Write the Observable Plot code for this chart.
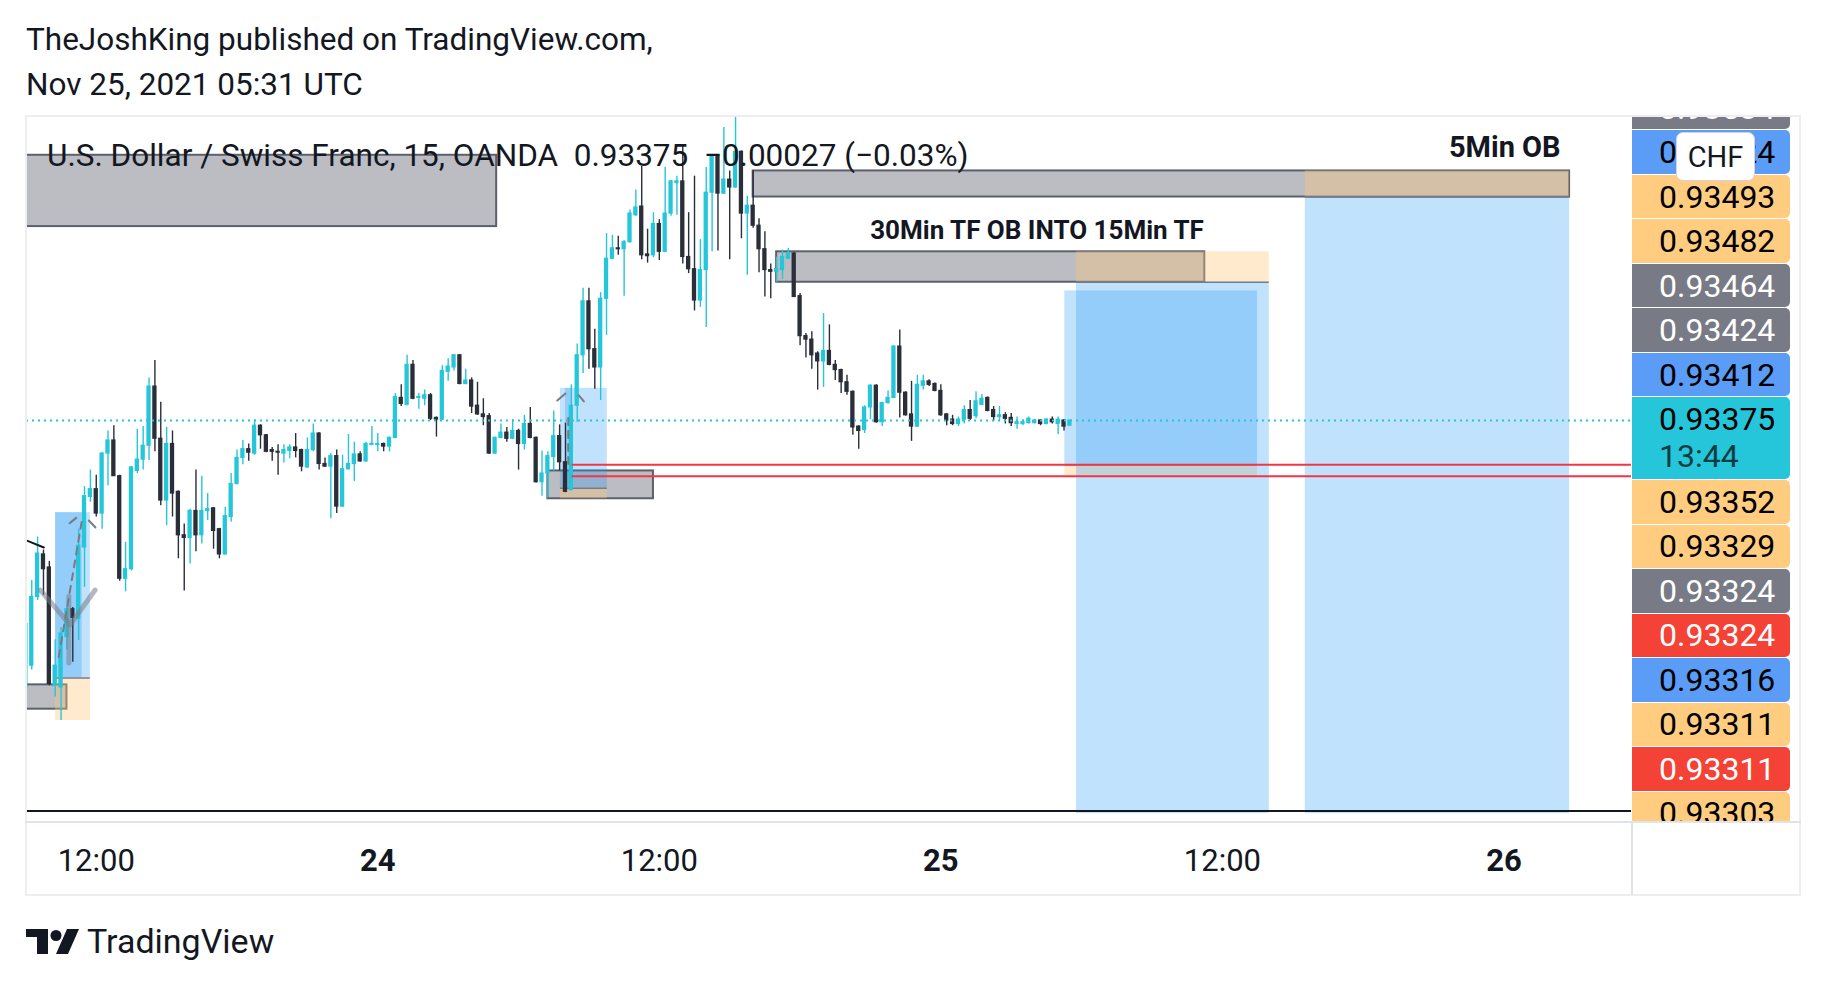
<!DOCTYPE html>
<html><head><meta charset="utf-8">
<script src="https://cdn.jsdelivr.net/npm/d3@7"></script>
<script src="https://cdn.jsdelivr.net/npm/@observablehq/plot@0.6"></script>
<style>
html,body{margin:0;padding:0;background:#fff}
body{width:1826px;height:988px;position:relative;overflow:hidden;font-family:Roboto,"Noto Sans",sans-serif;color:#131722}
.abs{position:absolute}
.lbl{position:absolute;left:0;width:158px;height:43.5px;box-sizing:border-box;padding-left:27px;display:flex;align-items:center;font-size:32px;border-radius:0 5px 5px 0;white-space:nowrap}
</style></head><body>
<div class="abs" style="left:26px;top:21px;font-size:31.5px;line-height:38px">TheJoshKing published on TradingView.com,</div>
<div class="abs" style="left:26px;top:66px;font-size:31.5px;line-height:38px">Nov 25, 2021 05:31 UTC</div>
<div id="chart" class="abs" style="left:26px;top:116px"></div>
<div id="legend" class="abs" style="left:47px;top:137px;font-size:31.5px;line-height:38px;white-space:pre"></div>
<div id="axisLabels" class="abs" style="left:1632px;top:116px;width:168px;height:706px;overflow:hidden"></div>
<div class="abs" style="left:1676px;top:132px;width:79px;height:49px;box-sizing:border-box;background:#fff;border:1.5px solid #d1d4dc;border-radius:7px;font-size:29px;display:flex;align-items:center;justify-content:center">CHF</div>
<div class="abs" style="left:25px;top:115px;width:1776px;height:781px;box-sizing:border-box;border:2px solid #eceef2"></div>
<div class="abs" style="left:25px;top:821px;width:1776px;height:2px;background:#e0e3eb"></div>
<div class="abs" style="left:1631px;top:822px;width:2px;height:73px;background:#e0e3eb"></div>
<div class="abs" style="left:26px;top:924px;display:flex;align-items:center">
  <svg width="53" height="25" viewBox="0 0 53 25"><path d="M0 0H22V25H11V8H0Z" fill="#131722"/><circle cx="30" cy="6.5" r="5.5" fill="#131722"/><path d="M41 0H53L42 25H30Z" fill="#131722"/></svg>
  <span style="font-size:34px;margin-left:8px;line-height:34px">TradingView</span>
</div>
<script>
// ---------- data ----------
const symbolName = "U.S. Dollar / Swiss Franc, 15, OANDA";
const lastPrice = 0.93375;
const change = "−0.00027 (−0.03%)";
const countdown = "13:44";
const barStart = Date.UTC(2021, 10, 23, 9, 0);   // first visible 15-min bar
const barMinutes = 15;

const open = [0.93068,0.93093,0.93172,0.93221,0.93206,0.93070,0.93068,0.93126,0.93158,0.93147,
0.93229,0.93287,0.93296,0.93268,0.93337,0.93352,0.93311,0.93193,0.93204,0.93317,
0.93330,0.93346,0.93414,0.93354,0.93283,0.93348,0.93293,0.93243,0.93240,0.93271,
0.93243,0.93271,0.93274,0.93250,0.93221,0.93264,0.93302,0.93332,0.93342,0.93337,
0.93369,0.93358,0.93341,0.93339,0.93337,0.93340,0.93344,0.93341,0.93321,0.93341,
0.93360,0.93325,0.93322,0.93334,0.93276,0.93319,0.93325,0.93336,0.93328,0.93347,
0.93347,0.93348,0.93345,0.93355,0.93401,0.93393,0.93439,0.93401,0.93400,0.93404,
0.93378,0.93376,0.93431,0.93436,0.93450,0.93417,0.93421,0.93392,0.93382,0.93380,
0.93337,0.93355,0.93361,0.93354,0.93363,0.93348,0.93371,0.93355,0.93304,0.93314,
0.93333,0.93357,0.93327,0.93295,0.93392,0.93450,0.93512,0.93457,0.93436,0.93515,
0.93561,0.93573,0.93572,0.93580,0.93611,0.93621,0.93566,0.93565,0.93601,0.93569,
0.93613,0.93648,0.93650,0.93563,0.93549,0.93513,0.93548,0.93637,0.93680,0.93636,
0.93652,0.93643,0.93684,0.93613,0.93622,0.93599,0.93572,0.93548,0.93546,0.93548,
0.93561,0.93567,0.93518,0.93472,0.93468,0.93452,0.93443,0.93455,0.93439,0.93433,
0.93419,0.93408,0.93368,0.93364,0.93390,0.93415,0.93373,0.93395,0.93401,0.93460,
0.93407,0.93382,0.93368,0.93415,0.93420,0.93417,0.93409,0.93382,0.93376,0.93371,
0.93376,0.93387,0.93380,0.93393,0.93401,0.93387,0.93379,0.93381,0.93378,0.93371,
0.93371,0.93372,0.93372,0.93375,0.93371,0.93376,0.93371,0.93375,0.93369];
const high = [0.93145,0.93191,0.93241,0.93226,0.93213,0.93123,0.93137,0.93162,0.93160,0.93250,
0.93299,0.93318,0.93312,0.93338,0.93363,0.93369,0.93312,0.93235,0.93322,0.93365,
0.93368,0.93424,0.93444,0.93396,0.93367,0.93363,0.93294,0.93256,0.93273,0.93318,
0.93311,0.93291,0.93275,0.93251,0.93275,0.93314,0.93341,0.93352,0.93348,0.93376,
0.93370,0.93359,0.93344,0.93347,0.93347,0.93347,0.93360,0.93342,0.93355,0.93371,
0.93361,0.93332,0.93337,0.93341,0.93335,0.93359,0.93350,0.93339,0.93350,0.93368,
0.93360,0.93349,0.93356,0.93406,0.93416,0.93450,0.93444,0.93406,0.93410,0.93406,
0.93379,0.93438,0.93446,0.93451,0.93451,0.93434,0.93424,0.93419,0.93400,0.93383,
0.93356,0.93371,0.93367,0.93376,0.93365,0.93381,0.93390,0.93356,0.93340,0.93339,
0.93386,0.93370,0.93372,0.93416,0.93463,0.93527,0.93527,0.93480,0.93522,0.93590,
0.93588,0.93587,0.93582,0.93617,0.93640,0.93667,0.93595,0.93614,0.93606,0.93666,
0.93651,0.93656,0.93691,0.93614,0.93656,0.93583,0.93666,0.93681,0.93681,0.93712,
0.93662,0.93724,0.93685,0.93633,0.93662,0.93607,0.93592,0.93555,0.93563,0.93571,
0.93573,0.93568,0.93521,0.93475,0.93477,0.93454,0.93498,0.93485,0.93444,0.93434,
0.93427,0.93409,0.93369,0.93392,0.93416,0.93416,0.93396,0.93409,0.93461,0.93479,
0.93408,0.93420,0.93427,0.93427,0.93422,0.93418,0.93416,0.93383,0.93381,0.93379,
0.93392,0.93398,0.93408,0.93405,0.93402,0.93391,0.93391,0.93384,0.93383,0.93379,
0.93376,0.93379,0.93376,0.93376,0.93377,0.93379,0.93379,0.93376,0.93375];
const low = [0.93065,0.93088,0.93168,0.93174,0.93070,0.93057,0.93030,0.93111,0.93097,0.93122,
0.93183,0.93281,0.93264,0.93250,0.93300,0.93311,0.93190,0.93178,0.93202,0.93314,
0.93318,0.93329,0.93339,0.93277,0.93254,0.93264,0.93216,0.93179,0.93210,0.93224,
0.93233,0.93260,0.93227,0.93216,0.93220,0.93258,0.93301,0.93324,0.93328,0.93335,
0.93342,0.93338,0.93328,0.93312,0.93326,0.93331,0.93332,0.93316,0.93320,0.93339,
0.93318,0.93321,0.93262,0.93268,0.93275,0.93318,0.93305,0.93327,0.93327,0.93346,
0.93339,0.93339,0.93339,0.93354,0.93391,0.93392,0.93399,0.93388,0.93392,0.93375,
0.93356,0.93375,0.93420,0.93432,0.93416,0.93416,0.93383,0.93381,0.93369,0.93336,
0.93336,0.93354,0.93350,0.93353,0.93318,0.93341,0.93354,0.93303,0.93288,0.93286,
0.93317,0.93317,0.93292,0.93294,0.93373,0.93429,0.93434,0.93411,0.93398,0.93473,
0.93560,0.93565,0.93518,0.93579,0.93610,0.93560,0.93556,0.93562,0.93559,0.93568,
0.93610,0.93611,0.93555,0.93544,0.93501,0.93505,0.93482,0.93569,0.93570,0.93635,
0.93560,0.93642,0.93584,0.93542,0.93596,0.93545,0.93517,0.93515,0.93534,0.93537,
0.93560,0.93517,0.93461,0.93447,0.93434,0.93410,0.93413,0.93438,0.93421,0.93406,
0.93404,0.93358,0.93342,0.93360,0.93376,0.93372,0.93368,0.93394,0.93400,0.93378,
0.93380,0.93351,0.93367,0.93410,0.93414,0.93408,0.93380,0.93369,0.93369,0.93368,
0.93371,0.93375,0.93377,0.93392,0.93385,0.93374,0.93374,0.93371,0.93368,0.93365,
0.93369,0.93371,0.93371,0.93369,0.93370,0.93371,0.93359,0.93363,0.93369];
const close = [0.93141,0.93172,0.93222,0.93204,0.93072,0.93093,0.93130,0.93158,0.93148,0.93231,
0.93288,0.93296,0.93268,0.93337,0.93352,0.93311,0.93193,0.93204,0.93321,0.93330,
0.93346,0.93414,0.93354,0.93283,0.93348,0.93291,0.93243,0.93240,0.93271,0.93243,
0.93271,0.93273,0.93248,0.93221,0.93265,0.93302,0.93332,0.93342,0.93338,0.93369,
0.93358,0.93339,0.93339,0.93338,0.93341,0.93344,0.93340,0.93322,0.93341,0.93360,
0.93325,0.93322,0.93334,0.93276,0.93319,0.93325,0.93336,0.93328,0.93348,0.93348,
0.93348,0.93345,0.93355,0.93402,0.93394,0.93439,0.93400,0.93402,0.93404,0.93377,
0.93376,0.93432,0.93437,0.93450,0.93417,0.93421,0.93391,0.93382,0.93379,0.93337,
0.93355,0.93361,0.93354,0.93363,0.93348,0.93371,0.93355,0.93304,0.93314,0.93334,
0.93357,0.93327,0.93293,0.93392,0.93450,0.93512,0.93457,0.93436,0.93515,0.93561,
0.93573,0.93572,0.93580,0.93613,0.93620,0.93565,0.93564,0.93601,0.93569,0.93613,
0.93650,0.93650,0.93563,0.93549,0.93513,0.93548,0.93637,0.93680,0.93636,0.93652,
0.93643,0.93684,0.93613,0.93622,0.93599,0.93572,0.93548,0.93546,0.93549,0.93563,
0.93567,0.93517,0.93472,0.93468,0.93450,0.93443,0.93455,0.93439,0.93433,0.93419,
0.93408,0.93367,0.93363,0.93390,0.93415,0.93373,0.93395,0.93401,0.93460,0.93407,
0.93381,0.93368,0.93416,0.93420,0.93416,0.93409,0.93381,0.93375,0.93371,0.93376,
0.93387,0.93377,0.93397,0.93400,0.93386,0.93379,0.93381,0.93377,0.93372,0.93373,
0.93373,0.93377,0.93375,0.93371,0.93376,0.93373,0.93376,0.93368,0.93375];

const T = (d, h, m = 0) => new Date(Date.UTC(2021, 10, d, h, m));

// order-block rectangles
const grayBoxes = [
  {x1: T(23,6,0),  x2: T(24,5,4),   y1: 0.93598, y2: 0.93680},
  {x1: T(24,16,0), x2: T(26,2,48),  y1: 0.93632, y2: 0.93662},
  {x1: T(24,17,0), x2: T(25,11,15), y1: 0.93534, y2: 0.93569},
  {x1: T(24,7,15), x2: T(24,11,45), y1: 0.93285, y2: 0.93317},
  {x1: T(23,6,0),  x2: T(23,10,45), y1: 0.93043, y2: 0.93071}
];
// position tools: entry, stop, target
const positions = [
  {x1: T(25,15,32), x2: T(26,2,48),  entry: 0.93632, stop: 0.93662, target: 0.92923},
  {x1: T(25,5,47),  x2: T(25,14,0),  entry: 0.93534, stop: 0.93569, target: 0.92923},
  {x1: T(25,5,17),  x2: T(25,13,30), entry: 0.93324, stop: 0.93311, target: 0.93524},
  {x1: T(24,7,47),  x2: T(24,9,47),  entry: 0.93297, stop: 0.93285, target: 0.93412},
  {x1: T(23,10,16), x2: T(23,11,45), entry: 0.93079, stop: 0.93030, target: 0.93269}
];
const extraTargets = [
  {x1: T(24,8,0),   x2: T(24,8,17),  y1: 0.93297, y2: 0.93412},
  {x1: T(23,10,16), x2: T(23,11,24), y1: 0.93079, y2: 0.93269}
];
const redLevels = [0.93324, 0.93311];
const redStart = T(24,8,17);
const bottomLevel = 0.92926;

// freehand drawings
const trendLine = [{t: T(23,8,45), p: 0.93240}, {t: T(23,9,46), p: 0.93229}];
const vShape = [{t: T(23,9,37), p: 0.93180}, {t: T(23,10,53), p: 0.93140}, {t: T(23,11,57), p: 0.93180}];
const vBar = [{t: T(23,10,50), p: 0.93173}, {t: T(23,10,50), p: 0.93096}];
const dashed = [
  {g: 1, t: T(23,10,24), p: 0.93103}, {g: 1, t: T(23,11,24), p: 0.93262},
  {g: 2, t: T(24,8,7), p: 0.93325}, {g: 2, t: T(24,8,7), p: 0.93383}
];
const carets = [
  {g: 1, t: T(23,10,52), p: 0.93257}, {g: 1, t: T(23,11,9), p: 0.93263},
  {g: 2, t: T(23,11,41), p: 0.93260}, {g: 2, t: T(23,11,58), p: 0.93252},
  {g: 3, t: T(24,7,39), p: 0.93398}, {g: 3, t: T(24,8,0), p: 0.93406},
  {g: 4, t: T(24,8,34), p: 0.93404}, {g: 4, t: T(24,8,47), p: 0.93397}
];
const notes = [
  {t: T(25,11,15), p: 0.93593, text: "30Min TF OB INTO 15Min TF", size: 26, dx: -1},
  {t: T(26,2,48),  p: 0.93689, text: "5Min OB", size: 29, dx: -9}
];

// time axis
const hourTicks = [T(23,12), T(24,12), T(25,12)];
const dayTicks = [T(24,0), T(25,0), T(26,0)];

// stacked price-scale labels
const labelsAbove = ["0.93412","0.93424","0.93464","0.93482","0.93493","0.93524","0.93534"];
const colorsAbove = ["blue","gray","gray","orange","orange","blue","gray"];
const labelsBelow = ["0.93352","0.93329","0.93324","0.93324","0.93316","0.93311","0.93311","0.93303"];
const colorsBelow = ["orange","orange","gray","red","blue","orange","red","orange"];

// view
const xDomain = [new Date(Date.UTC(2021,10,23,9,1,36)), new Date(Date.UTC(2021,10,26,5,26,18))];
const yDomain = [0.929127, 0.937246];

// ---------- build ----------
const bars = open.map((o, i) => ({t: new Date(barStart + i * barMinutes * 60000), o, h: high[i], l: low[i], c: close[i]}));
const upBars = bars.filter(d => d.c >= d.o);
const downBars = bars.filter(d => d.c < d.o);
const half = 5.5 * 60000;
const bx1 = d => new Date(+d.t - half), bx2 = d => new Date(+d.t + half);
const UP = "#26c6da", DOWN = "#2a2e39";

const stops = positions.map(d => ({x1: d.x1, x2: d.x2, y1: d.entry, y2: d.stop}));
const targets = positions.map(d => ({x1: d.x1, x2: d.x2, y1: d.entry, y2: d.target})).concat(extraTargets);

const noteMarks = notes.map(n => Plot.text([n], {x: "t", y: "p", text: "text", dx: n.dx, textAnchor: "end", fontWeight: "bold", fontSize: n.size, fill: "#131722"}));

const chart = Plot.plot({
  width: 1774, height: 778,
  marginTop: 0, marginLeft: 0, marginRight: 169, marginBottom: 72,
  x: {type: "utc", domain: xDomain, axis: null},
  y: {domain: yDomain, axis: null},
  style: {fontFamily: "Roboto, sans-serif", background: "transparent", overflow: "visible"},
  marks: [
    Plot.rect(grayBoxes, {x1: "x1", x2: "x2", y1: "y1", y2: "y2", fill: "#787b86", fillOpacity: 0.5, stroke: "#5d606b", strokeWidth: 2, clip: true}),
    Plot.rect(stops, {x1: "x1", x2: "x2", y1: "y1", y2: "y2", fill: "#ffc779", fillOpacity: 0.37, clip: true}),
    Plot.rect(targets, {x1: "x1", x2: "x2", y1: "y1", y2: "y2", fill: "#2196f3", fillOpacity: 0.28, clip: true}),
    Plot.ruleY(positions, {y: "entry", x1: "x1", x2: "x2", stroke: "#787b86", strokeWidth: 1.5, clip: true}),
    Plot.ruleX(upBars, {x: "t", y1: "l", y2: "h", stroke: UP, strokeWidth: 1.4, clip: true}),
    Plot.ruleX(downBars, {x: "t", y1: "l", y2: "h", stroke: DOWN, strokeWidth: 1.4, clip: true}),
    Plot.rect(upBars, {x1: bx1, x2: bx2, y1: "o", y2: "c", fill: UP, insetTop: -0.6, insetBottom: -0.6, clip: true}),
    Plot.rect(downBars, {x1: bx1, x2: bx2, y1: "o", y2: "c", fill: DOWN, insetTop: -0.6, insetBottom: -0.6, clip: true}),
    Plot.line(vShape, {x: "t", y: "p", stroke: "#787b86", strokeOpacity: 0.55, strokeWidth: 5, clip: true}),
    Plot.line(vBar, {x: "t", y: "p", stroke: "#787b86", strokeOpacity: 0.5, strokeWidth: 5, clip: true}),
    Plot.line(dashed, {x: "t", y: "p", z: "g", stroke: "#787b86", strokeWidth: 2, strokeDasharray: "7,6", clip: true}),
    Plot.line(carets, {x: "t", y: "p", z: "g", stroke: "#787b86", strokeWidth: 2, clip: true}),
    Plot.line(trendLine, {x: "t", y: "p", stroke: "#131722", strokeWidth: 2, clip: true}),
    Plot.ruleY(redLevels, {y: d => d, x1: () => redStart, x2: () => xDomain[1], stroke: "#f23645", strokeWidth: 2, clip: true}),
    Plot.ruleY([bottomLevel], {y: d => d, stroke: "#131722", strokeWidth: 2, clip: true}),
    Plot.ruleY([lastPrice], {y: d => d, stroke: UP, strokeWidth: 2, strokeDasharray: "2,4", clip: true}),
    ...noteMarks,
    Plot.text(hourTicks, {x: d => d, text: () => "12:00", frameAnchor: "bottom", dy: 48, fontSize: 31, fill: "#131722"}),
    Plot.text(dayTicks, {x: d => d, text: d => String(d.getUTCDate()), frameAnchor: "bottom", dy: 48, fontSize: 31, fontWeight: "bold", fill: "#131722"})
  ]
});
document.getElementById("chart").appendChild(chart);

document.getElementById("legend").textContent = `${symbolName}  ${lastPrice.toFixed(5)}  ${change}`;

// stacked price labels anchored to the last price
const pal = {gray: ["#787b86", "#fff"], blue: ["#5b9cf6", "#000"], orange: ["#ffcc80", "#000"], red: ["#f44336", "#fff"], teal: ["#26c6da", "#000"]};
const yPx = chart.scale("y").apply(lastPrice);
const box = document.getElementById("axisLabels");
const pitch = 44.5;
const tealTop = yPx - 22.7, tealH = 81.7;
function addLabel(top, text, color, h) {
  const el = document.createElement("div");
  el.className = "lbl";
  el.style.top = top + "px";
  if (h) el.style.height = h + "px";
  el.style.background = pal[color][0];
  el.style.color = pal[color][1];
  el.innerHTML = text;
  box.appendChild(el);
}
labelsAbove.forEach((t, k) => addLabel(tealTop - pitch * (k + 1), t, colorsAbove[k]));
labelsBelow.forEach((t, k) => addLabel(tealTop + tealH + 1 + pitch * k, t, colorsBelow[k]));
addLabel(tealTop, `<div style="line-height:37px">${lastPrice.toFixed(5)}<br><span style="color:#0d3b42">${countdown}</span></div>`, "teal", tealH);
</script>
</body></html>
